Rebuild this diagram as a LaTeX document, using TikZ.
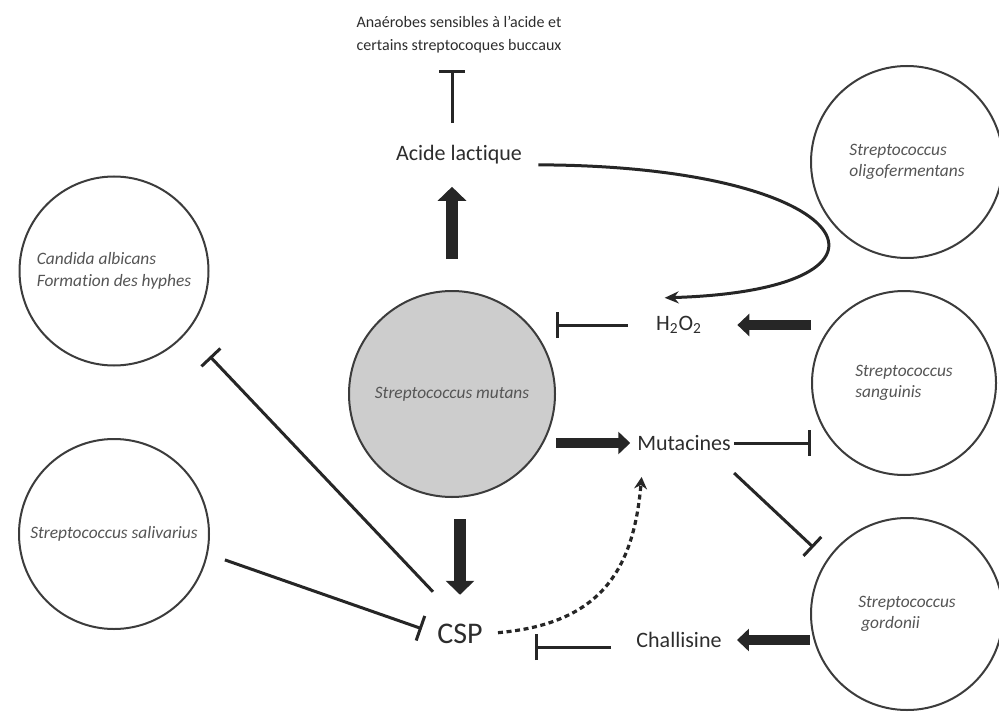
\documentclass[tikz,border=0pt]{standalone}
\usepackage{fontspec}
\setmainfont{Carlito}[Ligatures=NoCommon]
\usetikzlibrary{arrows.meta,positioning}
\definecolor{MutansGray}{RGB}{205,205,205}
\definecolor{RimGray}{RGB}{60,60,60}
\definecolor{InkGray}{RGB}{45,45,45}
\definecolor{LabelGray}{RGB}{85,85,85}
\tikzset{
  microbe/.style={circle,draw=RimGray,line width=1pt,fill=white,inner sep=1pt,
    align=left,font=\fontsize{8.7}{10.8}\selectfont\itshape,text=LabelGray},
  molecule/.style={inner sep=0pt,font=\fontsize{11}{13}\selectfont,text=InkGray},
  fat/.style={line width=5pt,black!85,-{Triangle[width=11pt,length=6pt]}},
  fatv/.style={fat,line width=6pt,-{Triangle[width=14pt,length=7pt]}},
  inhib/.style={line width=1.5pt,black!85,-{Bar[width=13pt]}},
  flow/.style={line width=1.5pt,black!85,-{Stealth[length=7pt,width=6pt]}},
  dotflow/.style={line width=1.6pt,black!85,dash pattern=on 2.5pt off 1.8pt,
    -{Stealth[length=6pt,width=6.5pt]}}
}

\begin{document}
\begin{tikzpicture}[x=0.5pt,y=-0.5pt]
  \useasboundingbox (0,0) rectangle (999,711);
  % bacteries et levure
  \node[microbe,fill=MutansGray,minimum size=103pt] (mutans) at (452,394) {Streptococcus mutans};
  \node[microbe,minimum size=94.5pt] (candida) at (114,271) {Candida albicans\\Formation des hyphes};
  \node[microbe,minimum size=95pt] (salivarius) at (114,534) {Streptococcus salivarius};
  \node[microbe,minimum size=96pt] (oligo) at (907,162) {Streptococcus\\oligofermentans};
  \node[microbe,minimum size=92pt] (sanguinis) at (904,383) {Streptococcus\\sanguinis};
  \node[microbe,minimum size=96pt] (gordonii) at (907,614) {Streptococcus\\\hspace{1.5pt}gordonii};
  % molecules
  \node[inner sep=0pt,align=center,text=InkGray,font=\fontsize{8}{11.5}\selectfont] (anaerobes) at (459,35)
    {Anaérobes sensibles à l’acide et\\certains streptocoques buccaux};
  \node[molecule] (lactique) at (459,155) {Acide lactique};
  \node[molecule] (hperox) at (679,325) {H\textsubscript{2}O\textsubscript{2}};
  \node[molecule] (mutacines) at (684,443) {Mutacines};
  \node[molecule] (challisine) at (679,640) {Challisine};
  \node[molecule,font=\fontsize{15}{18}\selectfont] (csp) at (460,634) {CSP};
  % points libres
  \coordinate (mutout) at ([shift={(3,22)}]mutacines.south east);
  \coordinate (challout) at ([yshift=-3.5pt]challisine.west);
  \coordinate (cspup) at ([shift={(-4,-32)}]csp.north west);
  % production
  \draw[fatv,shorten <=15.5pt,shorten >=11pt] (mutans.north) -- (mutans.north |- lactique.south);
  \draw[fatv,shorten <=10.5pt,shorten >=14.5pt] (csp |- mutans.south) -- (csp.north);
  \draw[fat,shorten >=3.3pt] (mutacines -| mutans.east) -- (mutacines.west);
  \draw[fat,shorten >=17.5pt] (hperox -| sanguinis.west) -- (hperox.east);
  \draw[fat,shorten >=7.5pt] (challisine -| gordonii.west) -- (challisine.east);
  \draw[flow,shorten <=8pt] (lactique.south east) .. controls +(339,1) and +(263,-8)
    .. ([shift={(9,-18)}]hperox.north west);
  \draw[dotflow,shorten <=7.5pt,shorten >=13pt] (csp.east)
    to[out=5,in=-95,looseness=1.25] ([xshift=3.5pt]mutacines.south west);
  % inhibitions
  \draw[inhib,shorten <=11pt,shorten >=8pt] (lactique.north -| mutans) -- (anaerobes.south -| mutans);
  \draw[inhib,shorten <=14pt] (hperox.west) -- (hperox.west -| mutans.east);
  \draw[inhib,shorten <=1.5pt] (mutacines.east) -- (mutacines -| sanguinis.west);
  \draw[inhib,shorten >=9pt] (mutout) -- (gordonii.146);
  \draw[inhib,shorten <=12.5pt,shorten >=26pt] (challout) -- (challout -| csp.east);
  \draw[inhib,shorten <=9pt,shorten >=8pt] (salivarius.-12) -- (csp.west);
  \draw[inhib,shorten >=16.5pt] (cspup) -- (candida.-40);
\end{tikzpicture}
\end{document}
